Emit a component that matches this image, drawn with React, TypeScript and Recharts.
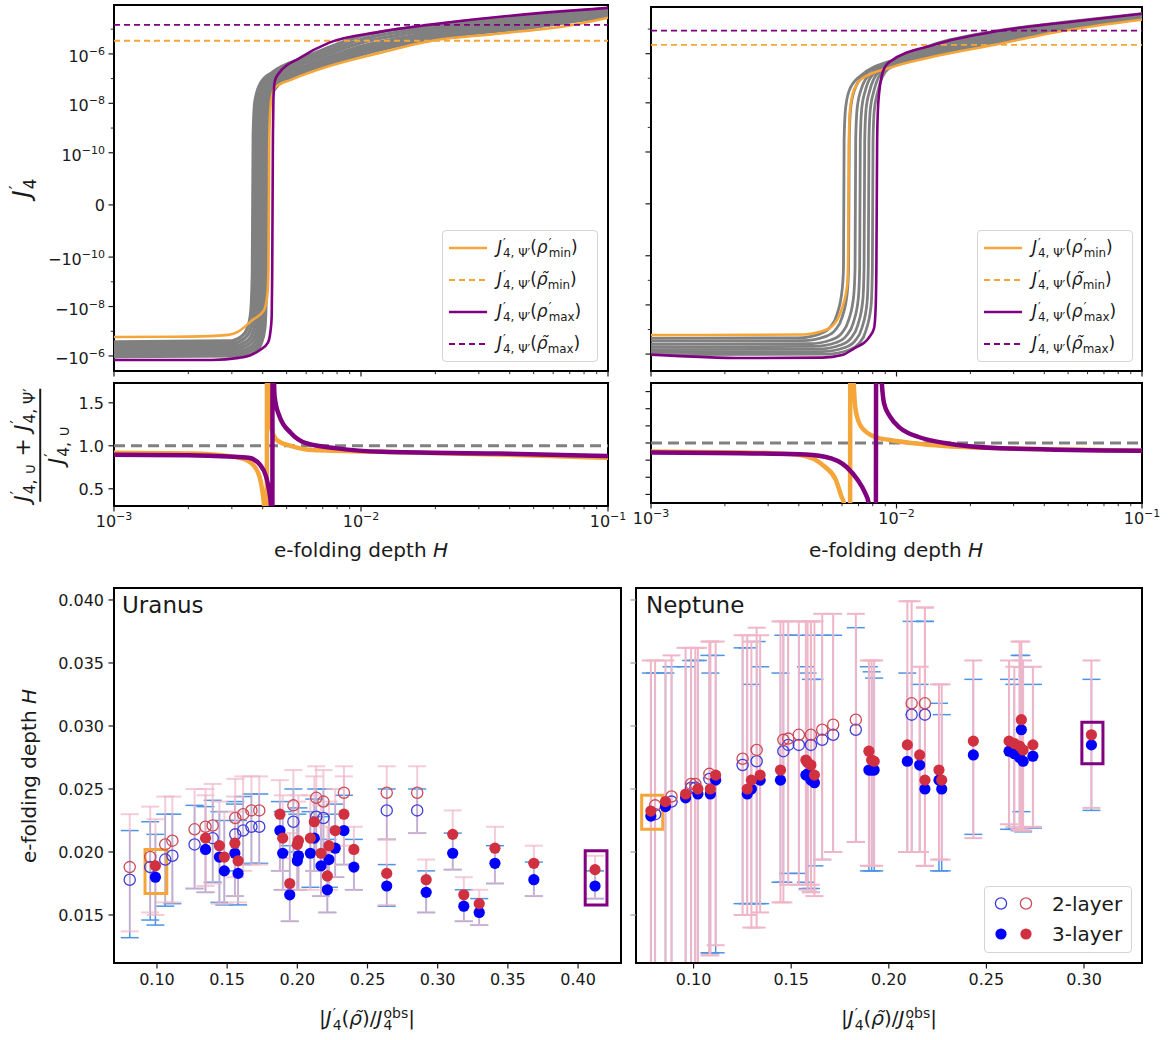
import React from 'react';
import {
  LineChart, Line, XAxis, YAxis, ReferenceLine, ReferenceArea,
  ScatterChart, Scatter, ErrorBar,
} from 'recharts';

const FONT = '"DejaVu Sans", Verdana, sans-serif';
const ORANGE = '#F4A63A';
const PURPLE = '#800080';
const GREY = '#808080';
const BLUE = '#0000FF';
const BLUE_RING = '#3C3CDC';
const RED = '#D0303F';
const RED_RING = '#CC4A56';
const PINK = '#F0B6C8';
const SKY = '#4D94E6';
const INK = '#1a1a1a';

// ---------- top row: J'_4 against e-folding depth H, pairs [H, J'_4] ----------
const uranusOrange = [
  [0.001, -1.7e-7], [0.002, -1.65e-7], [0.0029, -1.4e-7], [0.00315, -1.1e-7], [0.00364, -3.5e-8],
  [0.00405, -1.4e-8], [0.00418, -3e-9], [0.00422, -3e-10], [0.00425, 3e-10], [0.00429, 5e-9],
  [0.00435, 1.8e-8], [0.0045, 4.5e-8], [0.0052, 8.9e-8], [0.0075, 3.3e-7], [0.0119, 1.1e-6],
  [0.0194, 3.4e-6], [0.035, 6.4e-6], [0.073, 1.5e-5], [0.1, 2.9e-5],
];
const uranusPurple = [
  [0.001, -1.45e-6], [0.0025, -1.45e-6], [0.0032, -1.2e-6], [0.0036, -9e-7], [0.0039, -5.7e-7],
  [0.0042, -2.9e-7], [0.0043, -1e-7], [0.00435, -2.5e-8], [0.00437, -5e-10], [0.0044, 5e-10],
  [0.00442, 1.5e-8], [0.00448, 8e-8], [0.00466, 1.7e-7], [0.00566, 6.9e-7], [0.0074, 2.8e-6],
  [0.0119, 7.8e-6], [0.0187, 1.5e-5], [0.0366, 3.2e-5], [0.1, 7.3e-5],
];
const uranusGrey = [
  [[0.001, -2.7e-7], [0.00292, -2.5e-7], [0.003285, -1.6e-7], [0.003468, -7.6e-8], [0.003577, -1.9e-8], [0.003635, -5e-10], [0.003665, 5e-10], [0.003723, 1.2e-8], [0.003942, 7e-8], [0.00438, 1.8e-7], [0.006, 7.6e-7], [0.01, 5.2e-6], [0.02, 1.5e-5], [0.05, 3.9e-5], [0.1, 6.9e-5]],
  [[0.001, -3.4e-7], [0.002992, -3.2e-7], [0.003366, -2.0e-7], [0.003553, -9.5e-8], [0.003665, -2.4e-8], [0.003725, -5e-10], [0.003755, 5e-10], [0.003815, 1.2e-8], [0.004039, 6.5e-8], [0.004488, 1.6e-7], [0.006, 5.9e-7], [0.01, 3.8e-6], [0.02, 1.2e-5], [0.05, 3.2e-5], [0.1, 6.0e-5]],
  [[0.001, -4.3e-7], [0.003064, -4.0e-7], [0.003447, -2.6e-7], [0.003639, -1.2e-7], [0.003753, -3.0e-8], [0.003815, -5e-10], [0.003845, 5e-10], [0.003907, 1.2e-8], [0.004136, 6e-8], [0.004596, 1.4e-7], [0.006, 4.5e-7], [0.01, 2.8e-6], [0.02, 9.3e-6], [0.05, 2.5e-5], [0.1, 5.2e-5]],
  [[0.001, -5.4e-7], [0.003136, -5.0e-7], [0.003528, -3.2e-7], [0.003724, -1.5e-7], [0.003842, -3.8e-8], [0.003904, -5e-10], [0.003936, 5e-10], [0.003998, 1.2e-8], [0.004234, 5.5e-8], [0.004704, 1.25e-7], [0.006, 3.4e-7], [0.01, 2.0e-6], [0.02, 7.4e-6], [0.05, 2.0e-5], [0.1, 4.6e-5]],
  [[0.001, -6.8e-7], [0.0032, -6.3e-7], [0.0036, -4.1e-7], [0.0038, -1.9e-7], [0.00392, -4.8e-8], [0.003984, -5e-10], [0.004016, 5e-10], [0.00408, 1.2e-8], [0.00432, 5e-8], [0.0048, 1.1e-7], [0.006, 2.8e-7], [0.01, 1.55e-6], [0.02, 6.2e-6], [0.05, 1.7e-5], [0.1, 4.1e-5]],
  [[0.001, -8.5e-7], [0.003264, -7.9e-7], [0.003672, -5.1e-7], [0.003876, -2.4e-7], [0.003998, -6.0e-8], [0.004064, -5e-10], [0.004096, 5e-10], [0.004162, 1.2e-8], [0.004406, 4.5e-8], [0.004896, 1.0e-7], [0.006, 2.2e-7], [0.01, 1.2e-6], [0.02, 5.1e-6], [0.05, 1.45e-5], [0.1, 3.6e-5]],
  [[0.001, -1.05e-6], [0.003328, -9.8e-7], [0.003744, -6.3e-7], [0.003952, -2.9e-7], [0.004077, -7.4e-8], [0.004143, -5e-10], [0.004177, 5e-10], [0.004243, 1.2e-8], [0.004493, 4e-8], [0.004992, 9e-8], [0.006, 1.8e-7], [0.01, 9.3e-7], [0.02, 4.3e-6], [0.05, 1.2e-5], [0.1, 3.3e-5]],
];
const uranusDash = [3.4e-6, 1.5e-5]; // rho~ min, rho~ max

const neptuneOrange = [
  [0.001, -1.7e-7], [0.0042, -1.6e-7], [0.0048, -1.3e-7], [0.00546, -7.4e-8], [0.00594, -1.8e-8],
  [0.0063, -1.5e-9], [0.00635, -2e-10], [0.0064, 2e-10], [0.00645, 4e-9], [0.00665, 2.5e-8],
  [0.0069, 5.5e-8], [0.00716, 8.9e-8], [0.0094, 2.7e-7], [0.0142, 7.6e-7], [0.0252, 2.3e-6],
  [0.048, 8.5e-6], [0.1, 2.4e-5],
];
const neptunePurple = [
  [0.001, -1.05e-6], [0.0024, -1.45e-6], [0.005, -1.4e-6], [0.006, -1.1e-6], [0.0067, -6e-7],
  [0.0077, -2.2e-7], [0.0081, -9e-8], [0.00822, -1.5e-8], [0.00828, -3e-10], [0.00834, 3e-10],
  [0.0084, 5e-9], [0.0085, 2.6e-8], [0.0087, 1.2e-7], [0.009, 3e-7], [0.0094, 4.7e-7],
  [0.0142, 2.3e-6], [0.0262, 8.5e-6], [0.0519, 2.0e-5], [0.1, 4.2e-5],
];
const neptuneGrey = [
  [[0.001, -2.3e-7], [0.003965, -2.2e-7], [0.00488, -1.5e-7], [0.005368, -8e-8], [0.005734, -2.3e-8], [0.006009, -2.3e-9], [0.006082, -3e-10], [0.006118, 3e-10], [0.006192, 5e-9], [0.006405, 3e-8], [0.007015, 1.1e-7], [0.0105, 7.3e-7], [0.0142, 2.4e-6], [0.0252, 8.3e-6], [0.048, 1.9e-5], [0.1, 4.3e-5]],
  [[0.001, -3e-7], [0.00416, -2.85e-7], [0.00512, -1.95e-7], [0.005632, -1.05e-7], [0.006016, -3e-8], [0.006304, -3e-9], [0.006381, -3e-10], [0.006419, 3e-10], [0.006496, 5e-9], [0.00672, 3e-8], [0.00736, 1.3e-7], [0.0105, 6.6e-7], [0.0142, 2.05e-6], [0.0252, 6.9e-6], [0.048, 1.7e-5], [0.1, 3.9e-5]],
  [[0.001, -4e-7], [0.00442, -3.8e-7], [0.00544, -2.6e-7], [0.005984, -1.4e-7], [0.006392, -4e-8], [0.006698, -4e-9], [0.00678, -3e-10], [0.00682, 3e-10], [0.006902, 5e-9], [0.00714, 3e-8], [0.00782, 1.5e-7], [0.0105, 6.0e-7], [0.0142, 1.74e-6], [0.0252, 5.7e-6], [0.048, 1.5e-5], [0.1, 3.6e-5]],
  [[0.001, -5.2e-7], [0.004615, -4.9e-7], [0.00568, -3.4e-7], [0.006248, -1.8e-7], [0.006674, -5.2e-8], [0.006994, -5.2e-9], [0.007079, -3e-10], [0.007121, 3e-10], [0.007207, 5e-9], [0.007455, 3e-8], [0.008165, 1.7e-7], [0.0105, 5.4e-7], [0.0142, 1.47e-6], [0.0252, 4.8e-6], [0.048, 1.34e-5], [0.1, 3.3e-5]],
  [[0.001, -6.6e-7], [0.00481, -6.3e-7], [0.00592, -4.3e-7], [0.006512, -2.3e-7], [0.006956, -6.6e-8], [0.007289, -6.6e-9], [0.007378, -3e-10], [0.007422, 3e-10], [0.007511, 5e-9], [0.00777, 3e-8], [0.00851, 1.9e-7], [0.0105, 4.8e-7], [0.0142, 1.25e-6], [0.0252, 4.0e-6], [0.048, 1.2e-5], [0.1, 3.1e-5]],
  [[0.001, -8.3e-7], [0.005005, -7.9e-7], [0.00616, -5.4e-7], [0.006776, -2.9e-7], [0.007238, -8.3e-8], [0.007585, -8.3e-9], [0.007677, -3e-10], [0.007723, 3e-10], [0.007816, 5e-9], [0.008085, 3e-8], [0.008855, 2.1e-7], [0.0105, 4.4e-7], [0.0142, 1.06e-6], [0.0252, 3.3e-6], [0.048, 1.07e-5], [0.1, 2.8e-5]],
  [[0.001, -1.05e-6], [0.0052, -1.0e-6], [0.0064, -6.8e-7], [0.00704, -3.7e-7], [0.00752, -1.05e-7], [0.00788, -1.05e-8], [0.007976, -3e-10], [0.008024, 3e-10], [0.00812, 5e-9], [0.0084, 3e-8], [0.0092, 2.3e-7], [0.0105, 3.9e-7], [0.0142, 9.0e-7], [0.0252, 2.75e-6], [0.048, 9.5e-6], [0.1, 2.6e-5]],
];
const neptuneDash = [2.3e-6, 8.7e-6];

// ---------- middle row: (J'_U + J'_Psi) / J'_U, pairs [H, ratio] ----------
const uranusRatioOrange = [
  [0.001, 0.92], [0.00205, 0.91], [0.00294, 0.88], [0.00351, 0.82], [0.00384, 0.68], [0.00398, 0.49],
  [0.00405, 0.3], [0.0041, -0.3], [0.00414, -3], [0.00418, 5], [0.00421, 2.2], [0.00424, 1.5],
  [0.00435, 1.19], [0.00459, 1.06], [0.0052, 1.0], [0.0064, 0.95], [0.0122, 0.93], [0.035, 0.9], [0.1, 0.86],
];
const uranusRatioPurple = [
  [0.001, 0.895], [0.002, 0.89], [0.0029, 0.875], [0.00351, 0.86], [0.0039, 0.78], [0.00413, 0.64],
  [0.00424, 0.49], [0.00432, 0.3], [0.00435, -0.5], [0.00437, -3], [0.00439, 5], [0.00441, 2.5],
  [0.00447, 1.57], [0.00468, 1.34], [0.0052, 1.15], [0.006, 1.03], [0.008, 0.97], [0.0122, 0.93],
  [0.0357, 0.91], [0.1, 0.88],
];
const neptuneRatioOrange = [
  [0.001, 0.9], [0.0024, 0.89], [0.00403, 0.86], [0.00512, 0.72], [0.00566, 0.57], [0.00596, 0.38],
  [0.0061, 0.3], [0.0063, -0.5], [0.00645, -3], [0.0065, 5], [0.00664, 2.0], [0.00682, 1.38],
  [0.00718, 1.19], [0.0082, 1.07], [0.0094, 1.035], [0.0115, 1.0], [0.0157, 0.965], [0.0366, 0.93], [0.1, 0.91],
];
const neptuneRatioPurple = [
  [0.001, 0.89], [0.004, 0.87], [0.0051, 0.84], [0.00626, 0.72], [0.00694, 0.57], [0.00744, 0.42],
  [0.0077, 0.3], [0.008, -0.5], [0.0082, -3], [0.0083, 5], [0.00855, 2.2], [0.0089, 1.46],
  [0.0094, 1.31], [0.0104, 1.17], [0.0123, 1.07], [0.0157, 1.0], [0.0262, 0.94], [0.1, 0.91],
];

// ---------- bottom row: H against |J'_4/J_4^obs|, rows [x, H, low, high] ----------
const uranusOpenRed = [
  [0.0806, 0.0188, 0.0137, 0.023], [0.0952, 0.0196, 0.0152, 0.0236], [0.1059, 0.0206, 0.016, 0.0244],
  [0.111, 0.0209, 0.016, 0.0244], [0.1268, 0.0218, 0.0171, 0.025], [0.1346, 0.022, 0.0173, 0.025],
  [0.1397, 0.0221, 0.0175, 0.0254], [0.1558, 0.0227, 0.018, 0.0258], [0.1614, 0.023, 0.0185, 0.026],
  [0.1673, 0.0233, 0.019, 0.026], [0.1729, 0.0233, 0.019, 0.026], [0.1972, 0.0237, 0.0195, 0.0265],
  [0.2135, 0.0243, 0.02, 0.0268], [0.2186, 0.024, 0.02, 0.0265], [0.2332, 0.0247, 0.0205, 0.0268],
  [0.2637, 0.0247, 0.021, 0.0268], [0.2854, 0.0247, 0.0215, 0.0268],
];
const uranusOpenBlue = [
  [0.0806, 0.0178, 0.0132, 0.0217], [0.0952, 0.0188, 0.0146, 0.0224], [0.1059, 0.0194, 0.0157, 0.023],
  [0.111, 0.0197, 0.0159, 0.023], [0.1268, 0.0206, 0.0171, 0.0237], [0.1397, 0.0211, 0.0176, 0.0241],
  [0.1558, 0.0214, 0.0185, 0.024], [0.1614, 0.0217, 0.019, 0.0244], [0.1673, 0.022, 0.0191, 0.0246],
  [0.1729, 0.022, 0.0191, 0.0246], [0.1972, 0.0224, 0.02, 0.025], [0.2135, 0.0228, 0.02, 0.025],
  [0.2186, 0.0227, 0.02, 0.025], [0.2637, 0.0233, 0.021, 0.025], [0.2854, 0.0233, 0.0215, 0.025],
];
const uranusFullRed = [
  [0.0989, 0.0189, 0.015, 0.0226], [0.1346, 0.0211, 0.0168, 0.0245], [0.1445, 0.0205, 0.0159, 0.024],
  [0.148, 0.0196, 0.0159, 0.0232], [0.1555, 0.0207, 0.0165, 0.0244], [0.1578, 0.0193, 0.016, 0.0232],
  [0.1876, 0.023, 0.0185, 0.0257], [0.1896, 0.0211, 0.017, 0.0245], [0.1946, 0.0175, 0.0145, 0.0215],
  [0.2, 0.0206, 0.017, 0.024], [0.2008, 0.0209, 0.017, 0.0245], [0.2093, 0.0211, 0.017, 0.0245],
  [0.2121, 0.0224, 0.0185, 0.026], [0.2169, 0.0199, 0.0165, 0.0237], [0.2214, 0.0181, 0.0152, 0.022],
  [0.2225, 0.0205, 0.017, 0.024], [0.227, 0.0217, 0.018, 0.025], [0.2332, 0.023, 0.019, 0.026],
  [0.2403, 0.0202, 0.017, 0.022], [0.2637, 0.0183, 0.0158, 0.021], [0.2918, 0.0178, 0.0152, 0.0194],
  [0.3107, 0.0214, 0.0186, 0.0233], [0.3186, 0.0166, 0.0145, 0.018], [0.3296, 0.0159, 0.0142, 0.017],
  [0.3408, 0.0203, 0.0175, 0.022], [0.3685, 0.0191, 0.0165, 0.0205], [0.4121, 0.0186, 0.0163, 0.0197],
];
const uranusFullBlue = [
  [0.0989, 0.018, 0.0142, 0.0214], [0.1346, 0.0202, 0.0168, 0.0236], [0.1445, 0.0196, 0.016, 0.0232],
  [0.148, 0.0185, 0.0158, 0.0225], [0.1555, 0.0199, 0.0165, 0.0238], [0.1578, 0.0183, 0.0158, 0.0225],
  [0.1876, 0.0217, 0.0185, 0.024], [0.1896, 0.0199, 0.017, 0.0232], [0.1946, 0.0166, 0.0145, 0.0205],
  [0.2, 0.0193, 0.017, 0.023], [0.2008, 0.0197, 0.017, 0.0235], [0.2093, 0.0199, 0.0172, 0.0232],
  [0.2121, 0.0211, 0.0185, 0.0242], [0.2169, 0.0189, 0.0165, 0.0228], [0.2214, 0.017, 0.0152, 0.021],
  [0.2225, 0.0194, 0.0172, 0.023], [0.227, 0.0203, 0.018, 0.0238], [0.2332, 0.0217, 0.019, 0.0245],
  [0.2403, 0.0188, 0.017, 0.021], [0.2637, 0.0173, 0.0157, 0.019], [0.2918, 0.0168, 0.0152, 0.0185],
  [0.3107, 0.0199, 0.0186, 0.0215], [0.3186, 0.0157, 0.0145, 0.017], [0.3296, 0.0152, 0.0142, 0.0163],
  [0.3408, 0.0191, 0.0175, 0.0205], [0.3685, 0.0178, 0.0165, 0.0192], [0.4121, 0.0173, 0.0163, 0.0185],
];

const neptuneOpenRed = [
  [0.0803, 0.0237, 0.005, 0.0352], [0.0887, 0.0244, 0.005, 0.0356], [0.0987, 0.0254, 0.005, 0.0362],
  [0.1009, 0.0254, 0.005, 0.0362], [0.1081, 0.0262, 0.0118, 0.0367], [0.1251, 0.0274, 0.015, 0.0372],
  [0.1323, 0.0281, 0.014, 0.0378], [0.146, 0.0289, 0.016, 0.0383], [0.1485, 0.029, 0.0174, 0.0383],
  [0.1539, 0.0293, 0.0174, 0.0383], [0.1601, 0.0293, 0.0174, 0.0383], [0.1659, 0.0297, 0.0194, 0.0389],
  [0.1715, 0.0301, 0.02, 0.0389], [0.1831, 0.0305, 0.0208, 0.0389], [0.2117, 0.0318, 0.02, 0.0399],
  [0.2185, 0.0318, 0.0189, 0.0394],
];
const neptuneOpenBlue = [
  [0.0803, 0.023, 0.005, 0.0342], [0.0887, 0.024, 0.005, 0.0347], [0.0987, 0.0251, 0.005, 0.0352],
  [0.1009, 0.0251, 0.005, 0.0352], [0.1081, 0.0258, 0.012, 0.0356], [0.1251, 0.0269, 0.0159, 0.0362],
  [0.1323, 0.0272, 0.0159, 0.0367], [0.146, 0.028, 0.0176, 0.0372], [0.1485, 0.0285, 0.0183, 0.0372],
  [0.1539, 0.0285, 0.0183, 0.0372], [0.1601, 0.0285, 0.0171, 0.0372], [0.1659, 0.0289, 0.0194, 0.0372],
  [0.1715, 0.0293, 0.02, 0.0372], [0.1831, 0.0297, 0.0208, 0.0378], [0.2117, 0.0309, 0.02, 0.0383],
  [0.2185, 0.0309, 0.0189, 0.0383],
];
const neptuneFullRed = [
  [0.0781, 0.02325, 0.005, 0.0352], [0.0856, 0.024, 0.005, 0.0352], [0.0959, 0.0246, 0.005, 0.0362],
  [0.1022, 0.025, 0.005, 0.0362], [0.1086, 0.025, 0.0118, 0.0367], [0.1113, 0.0261, 0.0126, 0.0367],
  [0.1275, 0.025, 0.015, 0.0372], [0.1296, 0.0257, 0.014, 0.0367], [0.1341, 0.0261, 0.0152, 0.0372],
  [0.1445, 0.0265, 0.016, 0.0383], [0.1575, 0.0273, 0.0174, 0.0383], [0.1584, 0.0271, 0.017, 0.0383],
  [0.1601, 0.0269, 0.0168, 0.0383], [0.1619, 0.0261, 0.0165, 0.0383], [0.1898, 0.028, 0.0189, 0.0352],
  [0.1912, 0.0273, 0.0189, 0.0352], [0.1925, 0.0272, 0.0189, 0.0352], [0.2095, 0.0285, 0.02, 0.0399],
  [0.2158, 0.0277, 0.02, 0.0347], [0.2185, 0.0257, 0.0189, 0.0394], [0.2257, 0.0265, 0.0194, 0.0333],
  [0.2271, 0.0257, 0.0194, 0.0333], [0.2433, 0.0288, 0.0211, 0.0352], [0.2616, 0.0288, 0.0222, 0.0352],
  [0.2643, 0.0286, 0.022, 0.0347], [0.267, 0.0284, 0.0218, 0.0367], [0.2679, 0.0305, 0.0217, 0.0367],
  [0.2688, 0.0281, 0.0217, 0.0352], [0.2738, 0.0285, 0.022, 0.0347], [0.3038, 0.0293, 0.0235, 0.0352],
];
const neptuneFullBlue = [
  [0.0781, 0.02285, 0.005, 0.0342], [0.0856, 0.0236, 0.005, 0.0342], [0.0959, 0.0243, 0.005, 0.0347],
  [0.1022, 0.0246, 0.005, 0.0352], [0.1086, 0.0246, 0.012, 0.0342], [0.1113, 0.0257, 0.012, 0.0356],
  [0.1275, 0.0246, 0.0159, 0.0362], [0.1296, 0.025, 0.0159, 0.0333], [0.1341, 0.0257, 0.0159, 0.0347],
  [0.1445, 0.0257, 0.0176, 0.0342], [0.1575, 0.0261, 0.0176, 0.0347], [0.1584, 0.0262, 0.0171, 0.0342],
  [0.1601, 0.0257, 0.0168, 0.0337], [0.1619, 0.0255, 0.0189, 0.0337], [0.1898, 0.0265, 0.0185, 0.0347],
  [0.1912, 0.0265, 0.0185, 0.0343], [0.1925, 0.0265, 0.0185, 0.0338], [0.2095, 0.0272, 0.02, 0.0342],
  [0.2158, 0.0269, 0.02, 0.0333], [0.2185, 0.025, 0.0189, 0.0383], [0.2257, 0.0257, 0.0185, 0.0318],
  [0.2271, 0.025, 0.0185, 0.0309], [0.2433, 0.0277, 0.0214, 0.0337], [0.2616, 0.028, 0.0218, 0.0337],
  [0.2643, 0.0278, 0.0218, 0.0333], [0.267, 0.0275, 0.0217, 0.0356], [0.2679, 0.0297, 0.0232, 0.0356],
  [0.2688, 0.0272, 0.0216, 0.0347], [0.2738, 0.0276, 0.0219, 0.0333], [0.3038, 0.0285, 0.0233, 0.0337],
];
// highlighted models: [x1, x2, y1, y2]
const uranusBoxes = { min: [0.0915, 0.107, 0.0167, 0.0202], max: [0.4051, 0.4206, 0.0158, 0.0201] };
const neptuneBoxes = { min: [0.0734, 0.0842, 0.0218, 0.0245], max: [0.2989, 0.3097, 0.027, 0.0303] };

// ---------- ticks ----------
const H_TICKS = [0.001, 0.002, 0.003, 0.004, 0.005, 0.006, 0.007, 0.008, 0.009, 0.01, 0.02, 0.03, 0.04, 0.05, 0.06, 0.07, 0.08, 0.09, 0.1];
const J_TICKS = [-1e-6, -1e-7, -1e-8, -1e-9, -1e-10, 0, 1e-10, 1e-9, 1e-8, 1e-7, 1e-6, 1e-5];
const H_FIT_TICKS = [0.015, 0.02, 0.025, 0.03, 0.035, 0.04];
const URANUS_X_TICKS = [0.1, 0.15, 0.2, 0.25, 0.3, 0.35, 0.4];
const NEPTUNE_X_TICKS = [0.1, 0.15, 0.2, 0.25, 0.3];

// symlog like matplotlib, linthresh 1e-11, linscale 1
const LIN_THRESH = 1e-11;
const LIN_SCALE = 1 / (1 - 1 / 10);
const symlog = (v: number) => {
  const a = Math.abs(v);
  if (a <= LIN_THRESH) return (v / LIN_THRESH) * LIN_SCALE;
  return Math.sign(v) * (Math.log10(a / LIN_THRESH) + LIN_SCALE);
};
const unsymlog = (s: number) => {
  const a = Math.abs(s);
  if (a <= LIN_SCALE) return (s / LIN_SCALE) * LIN_THRESH;
  return Math.sign(s) * LIN_THRESH * Math.pow(10, a - LIN_SCALE);
};

const toJ = (pairs: number[][]) => pairs.map(([h, j]) => ({ h, s: symlog(j) }));
const toRatio = (pairs: number[][]) => pairs.map(([h, r]) => ({ h, r }));
const toPts = (rows: number[][]) => rows.map(([x, y, lo, hi]) => ({ x, y, err: [y - lo, hi - y] }));

type Frame = { x: number; y: number; w: number; h: number };
type Pad = { l: number; t: number; r: number; b: number };

const boxOf = (f: Frame, p: Pad) => ({
  style: { position: 'absolute' as const, left: f.x - p.l, top: f.y - p.t },
  width: f.w + p.l + p.r,
  height: f.h + p.t + p.b,
  margin: { top: p.t, right: p.r, left: 0, bottom: 0 },
});

const sup = (e: number) => <tspan dy={-7} fontSize={11}>{'\u2212' + Math.abs(e)}</tspan>;

const logTick = (labels: boolean) => (p: any) => {
  const lg = Math.log10(p.payload.value);
  const e = Math.round(lg);
  const major = Math.abs(lg - e) < 1e-9;
  return (
    <g>
      <line x1={p.x} x2={p.x} y1={p.y} y2={p.y + (major ? 5.5 : 3.2)} stroke={INK} strokeWidth={major ? 1.2 : 0.9} />
      {labels && major ? (
        <text x={p.x} y={p.y + 21} textAnchor="middle" fontSize={16} fontFamily={FONT} fill={INK}>10{sup(e)}</text>
      ) : null}
    </g>
  );
};

const symTick = (labels: boolean) => (p: any) => {
  const v = unsymlog(p.payload.value);
  const e = v === 0 ? 0 : Math.round(Math.log10(Math.abs(v)));
  const major = v === 0 || e % 2 === 0;
  let label = null;
  if (labels && major) {
    label = v === 0 ? (
      <text x={p.x - 9} y={p.y + 6} textAnchor="end" fontSize={16} fontFamily={FONT} fill={INK}>0</text>
    ) : (
      <text x={p.x - 9} y={p.y + 8} textAnchor="end" fontSize={16} fontFamily={FONT} fill={INK}>{v < 0 ? '\u2212' : ''}10{sup(e)}</text>
    );
  }
  return (
    <g>
      <line x1={p.x - (major ? 5.5 : 3.2)} x2={p.x} y1={p.y} y2={p.y} stroke={INK} strokeWidth={major ? 1.2 : 0.9} />
      {label}
    </g>
  );
};

const linYTick = (fmt: ((v: number) => string) | null, color = INK) => (p: any) => (
  <g>
    <line x1={p.x - 5.5} x2={p.x} y1={p.y} y2={p.y} stroke={color} strokeWidth={1.2} />
    {fmt ? (
      <text x={p.x - 10} y={p.y + 5.8} textAnchor="end" fontSize={16} fontFamily={FONT} fill={INK}>{fmt(p.payload.value)}</text>
    ) : null}
  </g>
);

const linXTick = (fmt: (v: number) => string) => (p: any) => (
  <g>
    <line x1={p.x} x2={p.x} y1={p.y} y2={p.y + 5.5} stroke={INK} strokeWidth={1.2} />
    <text x={p.x} y={p.y + 22} textAnchor="middle" fontSize={16} fontFamily={FONT} fill={INK}>{fmt(p.payload.value)}</text>
  </g>
);

const axisCommon = { tickSize: 0, tickMargin: 0, axisLine: false, tickLine: false, interval: 0 as const, allowDataOverflow: true };

function JPanel({ frame, domain, grey, greyWidth, orange, purple, dash, labels }: any) {
  const b = boxOf(frame, { l: labels ? 110 : 20, t: 4, r: 4, b: 20 });
  return (
    <div style={b.style}>
      <LineChart width={b.width} height={b.height} margin={b.margin}>
        <XAxis {...axisCommon} type="number" dataKey="h" scale="log" domain={[0.001, 0.1]} ticks={H_TICKS} height={20} tick={logTick(false)} />
        <YAxis {...axisCommon} type="number" dataKey="s" domain={domain} ticks={J_TICKS.map(symlog)} width={labels ? 110 : 20} tick={symTick(labels)} />
        {grey.map((c: number[][], i: number) => (
          <Line key={'g' + i} data={toJ(c)} dataKey="s" type="monotone" stroke={GREY} strokeWidth={greyWidth} dot={false} activeDot={false} isAnimationActive={false} />
        ))}
        <Line data={toJ(orange)} dataKey="s" type="monotone" stroke={ORANGE} strokeWidth={2.6} dot={false} activeDot={false} isAnimationActive={false} />
        <ReferenceLine y={symlog(dash[0])} stroke={ORANGE} strokeWidth={1.8} strokeDasharray="6 4" />
        <Line data={toJ(purple)} dataKey="s" type="monotone" stroke={PURPLE} strokeWidth={2.6} dot={false} activeDot={false} isAnimationActive={false} />
        <ReferenceLine y={symlog(dash[1])} stroke={PURPLE} strokeWidth={1.8} strokeDasharray="6 4" />
        <ReferenceArea x1={0.001} x2={0.1} y1={domain[0]} y2={domain[1]} fill="none" stroke="#000" strokeWidth={2} ifOverflow="visible" />
      </LineChart>
    </div>
  );
}

function RatioPanel({ frame, domain, orange, purple, ticks, labels }: any) {
  const b = boxOf(frame, { l: labels ? 110 : 20, t: 4, r: 20, b: 32 });
  return (
    <div style={b.style}>
      <LineChart width={b.width} height={b.height} margin={b.margin}>
        <XAxis {...axisCommon} type="number" dataKey="h" scale="log" domain={[0.001, 0.1]} ticks={H_TICKS} height={32} tick={logTick(true)} />
        <YAxis {...axisCommon} type="number" dataKey="r" domain={domain} ticks={ticks} width={labels ? 110 : 20} tick={linYTick(labels ? (v: number) => v.toFixed(1) : null)} />
        <ReferenceLine y={1} stroke={GREY} strokeWidth={3} strokeDasharray="11 6" />
        <Line data={toRatio(orange)} dataKey="r" type="monotone" stroke={ORANGE} strokeWidth={4.5} dot={false} activeDot={false} isAnimationActive={false} />
        <Line data={toRatio(purple)} dataKey="r" type="monotone" stroke={PURPLE} strokeWidth={4.5} dot={false} activeDot={false} isAnimationActive={false} />
        <ReferenceArea x1={0.001} x2={0.1} y1={domain[0]} y2={domain[1]} fill="none" stroke="#000" strokeWidth={2} ifOverflow="visible" />
      </LineChart>
    </div>
  );
}

const noMark = () => <g />;
const ring = (color: string) => (p: any) => <circle cx={p.cx} cy={p.cy} r={5.6} fill="none" stroke={color} strokeWidth={1.3} />;
const dot = (color: string) => (p: any) => <circle cx={p.cx} cy={p.cy} r={5.6} fill={color} />;
const FIT_Y = [0.01119, 0.04095];

function FitPanel({ frame, xDomain, xTicks, labels, openRed, openBlue, fullRed, fullBlue, boxes, pinkAlpha }: any) {
  const pad = { l: labels ? 110 : 20, t: 4, r: 20, b: 36 };
  const b = boxOf(frame, pad);
  // blue bars first so that the pink ones lie on top, as in the figure
  const bars = [[fullBlue, SKY, 1.5, 1], [openBlue, SKY, 1.5, 1], [fullRed, PINK, 2, pinkAlpha], [openRed, PINK, 2, pinkAlpha]];
  const xAxis = <XAxis {...axisCommon} type="number" dataKey="x" domain={xDomain} ticks={xTicks} height={36} tick={linXTick((v: number) => v.toFixed(2))} />;
  const yAxis = (
    <YAxis {...axisCommon} type="number" dataKey="y" domain={FIT_Y} ticks={H_FIT_TICKS} width={pad.l}
      tick={linYTick(labels ? (v: number) => v.toFixed(3) : null, labels ? INK : '#9a9a9a')} />
  );
  return (
    <>
      <div style={{ ...b.style, clipPath: `inset(${pad.t}px ${pad.r}px ${pad.b}px ${pad.l}px)` }}>
        <ScatterChart width={b.width} height={b.height} margin={b.margin}>
          {xAxis}
          {yAxis}
          {bars.map(([rows, color, w, a]: any, i: number) => (
            <Scatter key={'e' + i} data={toPts(rows)} shape={noMark} isAnimationActive={false}>
              <ErrorBar dataKey="err" direction="y" width={9} stroke={color} strokeWidth={w} strokeOpacity={a} />
            </Scatter>
          ))}
        </ScatterChart>
      </div>
      <div style={b.style}>
        <ScatterChart width={b.width} height={b.height} margin={b.margin}>
          {xAxis}
          {yAxis}
          <Scatter data={toPts(openBlue)} shape={ring(BLUE_RING)} isAnimationActive={false} />
          <Scatter data={toPts(openRed)} shape={ring(RED_RING)} isAnimationActive={false} />
          <Scatter data={toPts(fullBlue)} shape={dot(BLUE)} isAnimationActive={false} />
          <Scatter data={toPts(fullRed)} shape={dot(RED)} isAnimationActive={false} />
          <ReferenceArea x1={boxes.min[0]} x2={boxes.min[1]} y1={boxes.min[2]} y2={boxes.min[3]} fill="none" stroke={ORANGE} strokeWidth={3} ifOverflow="visible" />
          <ReferenceArea x1={boxes.max[0]} x2={boxes.max[1]} y1={boxes.max[2]} y2={boxes.max[3]} fill="none" stroke={PURPLE} strokeWidth={3} ifOverflow="visible" />
          <ReferenceArea x1={xDomain[0]} x2={xDomain[1]} y1={FIT_Y[0]} y2={FIT_Y[1]} fill="none" stroke="#000" strokeWidth={2} ifOverflow="visible" />
        </ScatterChart>
      </div>
    </>
  );
}

// ---------- math text helpers ----------
const It = ({ children }: any) => <span style={{ fontStyle: 'italic' }}>{children}</span>;
const SS = ({ up, down }: any) => (
  <span style={{ display: 'inline-flex', flexDirection: 'column', verticalAlign: '0.5em', fontSize: '0.7em', marginLeft: 1 }}>
    <span style={{ lineHeight: 0.8 }}>{up}</span>
    <span style={{ lineHeight: 0.9 }}>{down}</span>
  </span>
);
const Sub = ({ children }: any) => <span style={{ fontSize: '0.7em', verticalAlign: '-0.3em' }}>{children}</span>;
const Jp = ({ down }: any) => <><It>J</It><SS up={'\u2032'} down={down} /></>;

const legendLabel = (tilde: boolean, which: string) => (
  <>
    <Jp down={'4, \u03A8\u2032'} />(
    {tilde ? <><It>{'\u03C1\u0303'}</It><Sub>{which}</Sub></> : <><It>{'\u03C1'}</It><SS up={'\u2032'} down={which} /></>}
    )
  </>
);

function TopLegend({ left, top }: any) {
  const rows = [
    [ORANGE, false, false, 'min'], [ORANGE, true, true, 'min'], [PURPLE, false, false, 'max'], [PURPLE, true, true, 'max'],
  ];
  return (
    <div style={{ position: 'absolute', left, top, width: 156, height: 132, boxSizing: 'border-box', border: '1px solid #d4d4d4', borderRadius: 4, background: 'rgba(255,255,255,0.85)', fontFamily: FONT, color: INK }}>
      {rows.map(([c, dashed, tilde, which]: any, i) => (
        <div key={i} style={{ position: 'absolute', left: 6, top: 17 + i * 32 - 11, height: 22, display: 'flex', alignItems: 'center', whiteSpace: 'nowrap' }}>
          <svg width={38} height={6}><line x1={0} x2={38} y1={3} y2={3} stroke={c} strokeWidth={dashed ? 1.8 : 2.6} strokeDasharray={dashed ? '6 4' : undefined} /></svg>
          <span style={{ marginLeft: 10, fontSize: 17 }}>{legendLabel(tilde, which)}</span>
        </div>
      ))}
    </div>
  );
}

const Rot = ({ x, y, size, children }: any) => (
  <div style={{ position: 'absolute', left: x, top: y, transform: 'translate(-50%, -50%) rotate(-90deg)', fontFamily: FONT, fontSize: size, color: INK, whiteSpace: 'nowrap', lineHeight: 1.15 }}>
    {children}
  </div>
);
const Centered = ({ x, y, size, children }: any) => (
  <div style={{ position: 'absolute', left: x, top: y, transform: 'translate(-50%, -50%)', fontFamily: FONT, fontSize: size, color: INK, whiteSpace: 'nowrap', lineHeight: 1.15 }}>
    {children}
  </div>
);

const xFitLabel = (
  <>|<Jp down="4" />({<It>{'\u03C1\u0303'}</It>})/<It>J</It><SS up="obs" down="4" />|</>
);

export default function App() {
  return (
    <div style={{ position: 'absolute', left: 0, top: 0, width: 1169, height: 1040, background: '#fff', overflow: 'hidden' }}>
      <JPanel frame={{ x: 114, y: 5, w: 494, h: 366 }} domain={[-6.72, 8.09]} grey={uranusGrey} greyWidth={3.4} orange={uranusOrange} purple={uranusPurple} dash={uranusDash} labels />
      <JPanel frame={{ x: 651, y: 7, w: 491, h: 364 }} domain={[-6.8, 8.01]} grey={neptuneGrey} greyWidth={2.8} orange={neptuneOrange} purple={neptunePurple} dash={neptuneDash} labels={false} />
      <RatioPanel frame={{ x: 114, y: 383, w: 494, h: 123 }} domain={[0.3, 1.73]} orange={uranusRatioOrange} purple={uranusRatioPurple} ticks={[0.5, 1.0, 1.5]} labels />
      <RatioPanel frame={{ x: 651, y: 383, w: 491, h: 120 }} domain={[0.3, 1.7]} orange={neptuneRatioOrange} purple={neptuneRatioPurple} ticks={[0.4, 0.6, 0.8, 1.0, 1.2, 1.4, 1.6]} labels={false} />
      <FitPanel frame={{ x: 114, y: 588, w: 507, h: 375 }} xDomain={[0.0694, 0.4306]} xTicks={URANUS_X_TICKS} labels pinkAlpha={0.7}
        openRed={uranusOpenRed} openBlue={uranusOpenBlue} fullRed={uranusFullRed} fullBlue={uranusFullBlue} boxes={uranusBoxes} />
      <FitPanel frame={{ x: 636, y: 588, w: 506, h: 375 }} xDomain={[0.0705, 0.3297]} xTicks={NEPTUNE_X_TICKS} labels={false} pinkAlpha={1}
        openRed={neptuneOpenRed} openBlue={neptuneOpenBlue} fullRed={neptuneFullRed} fullBlue={neptuneFullBlue} boxes={neptuneBoxes} />

      <TopLegend left={442} top={230} />
      <TopLegend left={977} top={230} />

      <Rot x={24} y={188} size={24}><Jp down="4" /></Rot>
      <Rot x={41} y={445} size={22}>
        <div style={{ display: 'flex', flexDirection: 'column', alignItems: 'center' }}>
          <div><Jp down={'4, \u222A'} /> + <Jp down={'4, \u03A8\u2032'} /></div>
          <div style={{ alignSelf: 'stretch', height: 1.6, background: INK, margin: '2px 0 3px' }} />
          <div><Jp down={'4, \u222A'} /></div>
        </div>
      </Rot>
      <Rot x={29} y={776} size={20}>e-folding depth <It>H</It></Rot>

      <Centered x={361} y={550} size={20}>e-folding depth <It>H</It></Centered>
      <Centered x={896} y={550} size={20}>e-folding depth <It>H</It></Centered>
      <Centered x={367} y={1019} size={20}>{xFitLabel}</Centered>
      <Centered x={889} y={1019} size={20}>{xFitLabel}</Centered>

      <div style={{ position: 'absolute', left: 122, top: 594, fontFamily: FONT, fontSize: 23, lineHeight: 1, color: INK }}>Uranus</div>
      <div style={{ position: 'absolute', left: 646, top: 594, fontFamily: FONT, fontSize: 23, lineHeight: 1, color: INK }}>Neptune</div>

      <div style={{ position: 'absolute', left: 984, top: 886, width: 148, height: 67, boxSizing: 'border-box', border: '1px solid #d4d4d4', borderRadius: 4, background: 'rgba(255,255,255,0.85)' }}>
        <svg width={148} height={67} style={{ position: 'absolute', left: -1, top: -1 }}>
          <circle cx={17} cy={17.5} r={5.6} fill="none" stroke={BLUE_RING} strokeWidth={1.3} />
          <circle cx={42} cy={17.5} r={5.6} fill="none" stroke={RED_RING} strokeWidth={1.3} />
          <circle cx={17} cy={48} r={5.6} fill={BLUE} />
          <circle cx={42} cy={48} r={5.6} fill={RED} />
          <text x={68} y={24.7} fontSize={20} fontFamily={FONT} fill={INK}>2-layer</text>
          <text x={68} y={54.7} fontSize={20} fontFamily={FONT} fill={INK}>3-layer</text>
        </svg>
      </div>
    </div>
  );
}
